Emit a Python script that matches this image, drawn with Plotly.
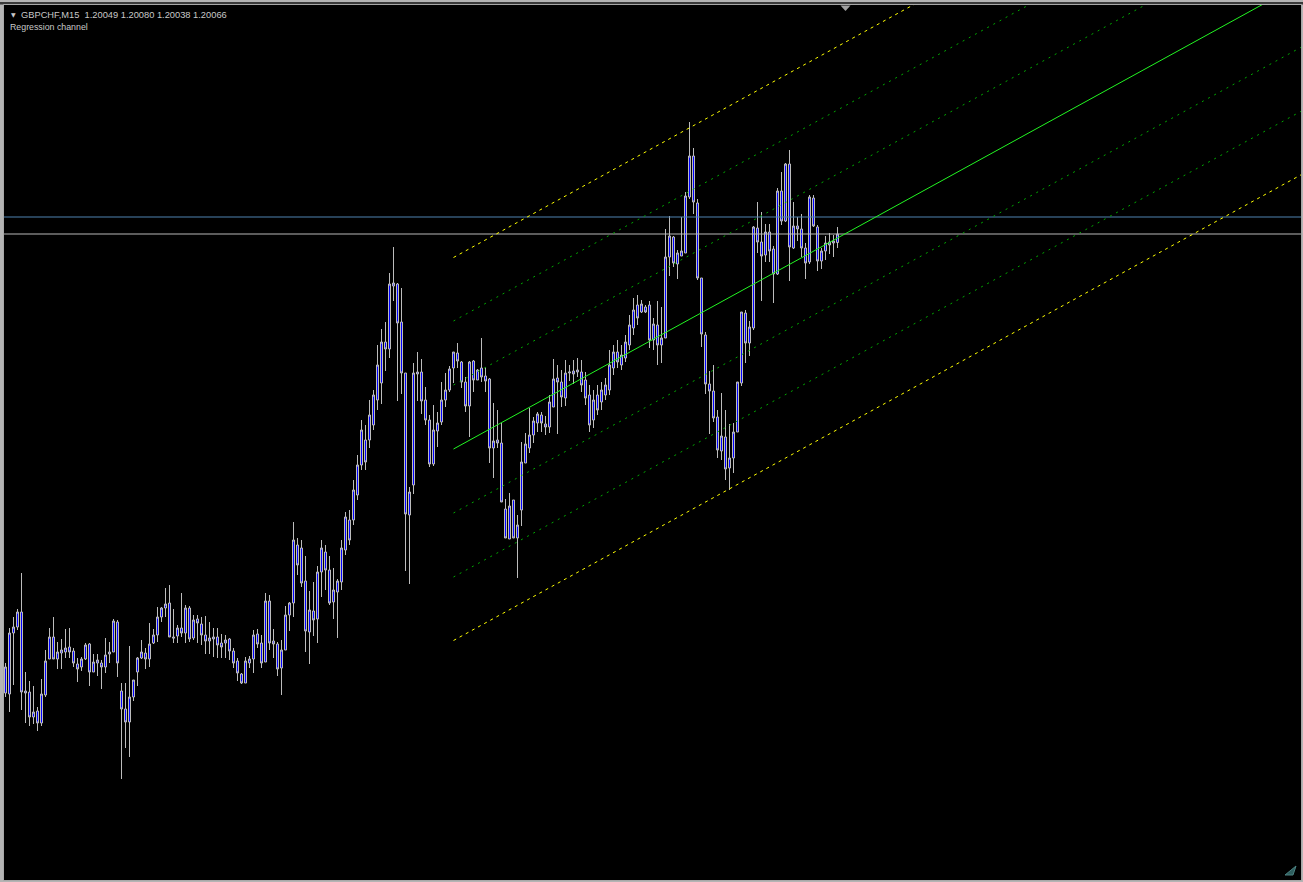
import plotly.graph_objects as go

# ---------------- data (GBPCHF M15) ----------------
symbol_label = "GBPCHF,M15"
header_ohlc = ["1.20049", "1.20080", "1.20038", "1.20066"]
indicator_label = "Regression channel"

opens = [
    1.19148, 1.19146, 1.19268, 1.19280, 1.19310, 1.19152, 1.19150, 1.19100, 1.19112, 1.19088,
    1.19144, 1.19216, 1.19260, 1.19216, 1.19228, 1.19230, 1.19240, 1.19232, 1.19206, 1.19200,
    1.19216, 1.19246, 1.19190, 1.19208, 1.19208, 1.19200, 1.19226, 1.19230, 1.19290, 1.19152,
    1.19116, 1.19090, 1.19140, 1.19190, 1.19218, 1.19228, 1.19216, 1.19248, 1.19264, 1.19300,
    1.19318, 1.19328, 1.19260, 1.19262, 1.19278, 1.19268, 1.19318, 1.19258, 1.19296, 1.19286,
    1.19264, 1.19252, 1.19256, 1.19260, 1.19248, 1.19248, 1.19256, 1.19232, 1.19212, 1.19186,
    1.19168, 1.19208, 1.19216, 1.19266, 1.19248, 1.19210, 1.19332, 1.19252, 1.19246, 1.19198,
    1.19234, 1.19304, 1.19328, 1.19444, 1.19438, 1.19372, 1.19270, 1.19312, 1.19296, 1.19390,
    1.19430, 1.19394, 1.19330, 1.19350, 1.19370, 1.19434, 1.19494, 1.19494, 1.19544, 1.19604,
    1.19654, 1.19654, 1.19684, 1.19734, 1.19768, 1.19850, 1.19836, 1.19962, 1.19966, 1.19890,
    1.19788, 1.19504, 1.19564, 1.19786, 1.19790, 1.19734, 1.19694, 1.19606, 1.19672, 1.19690,
    1.19734, 1.19754, 1.19798, 1.19828, 1.19810, 1.19770, 1.19722, 1.19812, 1.19774, 1.19798,
    1.19782, 1.19776, 1.19638, 1.19654, 1.19648, 1.19516, 1.19456, 1.19534, 1.19458, 1.19514,
    1.19608, 1.19638, 1.19664, 1.19688, 1.19704, 1.19686, 1.19680, 1.19720, 1.19778, 1.19770,
    1.19738, 1.19788, 1.19792, 1.19790, 1.19790, 1.19774, 1.19744, 1.19694, 1.19744, 1.19730,
    1.19744, 1.19754, 1.19798, 1.19830, 1.19804, 1.19818, 1.19844, 1.19878, 1.19924, 1.19910,
    1.19920, 1.19924, 1.19854, 1.19884, 1.19844, 1.19858, 1.20020, 1.20060, 1.20006, 1.20022,
    1.20028, 1.20140, 1.20222, 1.20128, 1.19978, 1.19864, 1.19766, 1.19752, 1.19700, 1.19632,
    1.19660, 1.19598, 1.19618, 1.19670, 1.19768, 1.19908, 1.19848, 1.19878, 1.20078, 1.20050,
    1.20024, 1.20070, 1.20036, 1.19986, 1.20152, 1.20092, 1.20206, 1.20038, 1.20082, 1.20076,
    1.20038, 1.20010, 1.20138, 1.20080, 1.20012, 1.20032, 1.20050, 1.20048, 1.20049,
]

highs = [
    1.19208, 1.19278, 1.19300, 1.19316, 1.19388, 1.19190, 1.19172, 1.19162, 1.19120, 1.19176,
    1.19234, 1.19278, 1.19300, 1.19250, 1.19256, 1.19276, 1.19278, 1.19238, 1.19218, 1.19220,
    1.19248, 1.19248, 1.19226, 1.19226, 1.19214, 1.19258, 1.19250, 1.19296, 1.19294, 1.19168,
    1.19168, 1.19242, 1.19174, 1.19220, 1.19254, 1.19238, 1.19288, 1.19276, 1.19320, 1.19320,
    1.19358, 1.19364, 1.19316, 1.19284, 1.19348, 1.19324, 1.19322, 1.19304, 1.19304, 1.19300,
    1.19302, 1.19290, 1.19278, 1.19278, 1.19266, 1.19264, 1.19258, 1.19238, 1.19218, 1.19188,
    1.19220, 1.19222, 1.19274, 1.19276, 1.19264, 1.19348, 1.19344, 1.19276, 1.19250, 1.19254,
    1.19322, 1.19330, 1.19490, 1.19458, 1.19454, 1.19422, 1.19352, 1.19370, 1.19402, 1.19454,
    1.19444, 1.19422, 1.19398, 1.19376, 1.19454, 1.19510, 1.19514, 1.19574, 1.19624, 1.19694,
    1.19684, 1.19734, 1.19754, 1.19844, 1.19876, 1.19890, 1.19988, 1.20040, 1.19968, 1.19958,
    1.19788, 1.19560, 1.19808, 1.19830, 1.19816, 1.19760, 1.19704, 1.19724, 1.19710, 1.19770,
    1.19788, 1.19802, 1.19830, 1.19848, 1.19812, 1.19780, 1.19812, 1.19814, 1.19796, 1.19858,
    1.19800, 1.19778, 1.19728, 1.19714, 1.19688, 1.19536, 1.19548, 1.19534, 1.19504, 1.19650,
    1.19668, 1.19718, 1.19700, 1.19710, 1.19710, 1.19702, 1.19744, 1.19816, 1.19804, 1.19794,
    1.19814, 1.19804, 1.19814, 1.19818, 1.19814, 1.19790, 1.19764, 1.19754, 1.19764, 1.19770,
    1.19778, 1.19834, 1.19844, 1.19854, 1.19844, 1.19864, 1.19904, 1.19938, 1.19944, 1.19934,
    1.19924, 1.19932, 1.19898, 1.19932, 1.19920, 1.20076, 1.20102, 1.20062, 1.20034, 1.20100,
    1.20150, 1.20290, 1.20238, 1.20136, 1.19978, 1.19870, 1.19792, 1.19804, 1.19714, 1.19748,
    1.19714, 1.19686, 1.19688, 1.19770, 1.19910, 1.19914, 1.19892, 1.20082, 1.20130, 1.20110,
    1.20086, 1.20086, 1.20042, 1.20158, 1.20190, 1.20208, 1.20234, 1.20130, 1.20100, 1.20106,
    1.20048, 1.20144, 1.20144, 1.20084, 1.20038, 1.20062, 1.20068, 1.20064, 1.20080,
]

lows = [
    1.19140, 1.19110, 1.19164, 1.19274, 1.19114, 1.19088, 1.19082, 1.19086, 1.19072, 1.19082,
    1.19140, 1.19216, 1.19216, 1.19196, 1.19196, 1.19218, 1.19218, 1.19200, 1.19170, 1.19192,
    1.19214, 1.19162, 1.19190, 1.19182, 1.19156, 1.19188, 1.19208, 1.19230, 1.19180, 1.18976,
    1.19038, 1.19020, 1.19132, 1.19162, 1.19216, 1.19196, 1.19200, 1.19246, 1.19250, 1.19290,
    1.19300, 1.19260, 1.19248, 1.19248, 1.19260, 1.19248, 1.19250, 1.19254, 1.19248, 1.19244,
    1.19226, 1.19226, 1.19220, 1.19218, 1.19218, 1.19218, 1.19214, 1.19198, 1.19172, 1.19166,
    1.19168, 1.19198, 1.19188, 1.19238, 1.19198, 1.19210, 1.19234, 1.19218, 1.19182, 1.19144,
    1.19234, 1.19272, 1.19300, 1.19384, 1.19360, 1.19230, 1.19206, 1.19262, 1.19248, 1.19340,
    1.19354, 1.19324, 1.19296, 1.19258, 1.19354, 1.19424, 1.19444, 1.19484, 1.19534, 1.19594,
    1.19594, 1.19638, 1.19674, 1.19714, 1.19726, 1.19792, 1.19818, 1.19932, 1.19732, 1.19746,
    1.19392, 1.19366, 1.19546, 1.19732, 1.19706, 1.19684, 1.19600, 1.19602, 1.19640, 1.19684,
    1.19720, 1.19750, 1.19768, 1.19798, 1.19758, 1.19710, 1.19660, 1.19750, 1.19774, 1.19770,
    1.19750, 1.19608, 1.19578, 1.19638, 1.19530, 1.19458, 1.19456, 1.19458, 1.19378, 1.19482,
    1.19608, 1.19628, 1.19648, 1.19670, 1.19670, 1.19664, 1.19668, 1.19720, 1.19666, 1.19720,
    1.19722, 1.19772, 1.19766, 1.19780, 1.19750, 1.19724, 1.19670, 1.19678, 1.19704, 1.19714,
    1.19734, 1.19744, 1.19784, 1.19798, 1.19794, 1.19810, 1.19834, 1.19864, 1.19884, 1.19908,
    1.19908, 1.19838, 1.19834, 1.19804, 1.19808, 1.19858, 1.19982, 1.20000, 1.19976, 1.20022,
    1.20028, 1.20136, 1.20106, 1.19974, 1.19840, 1.19746, 1.19666, 1.19690, 1.19618, 1.19614,
    1.19574, 1.19554, 1.19588, 1.19670, 1.19762, 1.19808, 1.19822, 1.19874, 1.20028, 1.19932,
    1.20010, 1.20010, 1.19928, 1.19984, 1.20084, 1.20090, 1.19972, 1.20036, 1.20052, 1.20020,
    1.19976, 1.20006, 1.20080, 1.19992, 1.19996, 1.20014, 1.20026, 1.20020, 1.20038,
]

closes = [
    1.19200, 1.19268, 1.19280, 1.19310, 1.19150, 1.19148, 1.19100, 1.19110, 1.19088, 1.19146,
    1.19212, 1.19260, 1.19216, 1.19230, 1.19234, 1.19238, 1.19230, 1.19208, 1.19196, 1.19216,
    1.19244, 1.19190, 1.19210, 1.19214, 1.19200, 1.19224, 1.19230, 1.19292, 1.19208, 1.19116,
    1.19090, 1.19140, 1.19174, 1.19218, 1.19230, 1.19216, 1.19246, 1.19264, 1.19300, 1.19318,
    1.19326, 1.19260, 1.19258, 1.19278, 1.19268, 1.19318, 1.19256, 1.19294, 1.19288, 1.19264,
    1.19252, 1.19258, 1.19260, 1.19244, 1.19240, 1.19254, 1.19232, 1.19208, 1.19188, 1.19168,
    1.19212, 1.19216, 1.19264, 1.19246, 1.19208, 1.19332, 1.19248, 1.19246, 1.19196, 1.19234,
    1.19304, 1.19328, 1.19454, 1.19404, 1.19368, 1.19272, 1.19314, 1.19294, 1.19390, 1.19438,
    1.19394, 1.19328, 1.19354, 1.19372, 1.19438, 1.19500, 1.19454, 1.19554, 1.19604, 1.19674,
    1.19610, 1.19704, 1.19744, 1.19804, 1.19850, 1.19836, 1.19966, 1.19968, 1.19888, 1.19788,
    1.19506, 1.19550, 1.19788, 1.19790, 1.19732, 1.19694, 1.19606, 1.19674, 1.19688, 1.19734,
    1.19754, 1.19796, 1.19830, 1.19812, 1.19770, 1.19722, 1.19810, 1.19774, 1.19794, 1.19780,
    1.19772, 1.19638, 1.19652, 1.19648, 1.19530, 1.19458, 1.19522, 1.19458, 1.19484, 1.19610,
    1.19646, 1.19664, 1.19692, 1.19706, 1.19688, 1.19680, 1.19730, 1.19776, 1.19770, 1.19740,
    1.19788, 1.19790, 1.19786, 1.19794, 1.19764, 1.19738, 1.19684, 1.19734, 1.19714, 1.19754,
    1.19764, 1.19804, 1.19830, 1.19810, 1.19824, 1.19850, 1.19884, 1.19914, 1.19898, 1.19926,
    1.19910, 1.19854, 1.19886, 1.19844, 1.19858, 1.20020, 1.20062, 1.20008, 1.20028, 1.20032,
    1.20142, 1.20222, 1.20130, 1.19978, 1.19866, 1.19766, 1.19752, 1.19698, 1.19634, 1.19662,
    1.19596, 1.19618, 1.19670, 1.19770, 1.19910, 1.19848, 1.19880, 1.20080, 1.20050, 1.20022,
    1.20070, 1.20032, 1.19986, 1.20152, 1.20092, 1.20206, 1.20040, 1.20082, 1.20076, 1.20038,
    1.20008, 1.20140, 1.20082, 1.20012, 1.20032, 1.20048, 1.20044, 1.20052, 1.20066,
]

bid_price = 1.20066
ask_price = 1.20100

# regression channel (anchored bars, prices at anchors, deviations)
channel_start_bar = 112
channel_end_bar = 208
channel_start_price = 1.19636
channel_end_price = 1.20058
channel_ray_to_bar = 340
channel_bands = [  # (offset, colour, dash)
    (0.00383, "#ffff00", "3px,4px"),
    (0.00256, "#00a800", "2px,5px"),
    (0.00128, "#00a800", "2px,5px"),
    (-0.00128, "#00a800", "2px,5px"),
    (-0.00256, "#00a800", "2px,5px"),
    (-0.00383, "#ffff00", "3px,4px"),
]

# visible window
x_view = [-0.375, 323.875]
y_view = [1.18774, 1.20524]

# ---------------- figure ----------------
W, H = 1303, 882
ML, MR, MT, MB = 4, 2, 5, 2
PW, PH = W - ML - MR, H - MT - MB

def px_x(px):
    return (px - ML) / PW

def px_y(py):
    return (H - MB - py) / PH

bars = list(range(len(closes)))

fig = go.Figure()

# bid / ask lines
fig.add_trace(go.Scatter(x=[x_view[0] - 5, x_view[1] + 5], y=[ask_price, ask_price],
                         mode="lines", line=dict(color="#4f82b0", width=1), hoverinfo="skip"))
fig.add_trace(go.Scatter(x=[x_view[0] - 5, x_view[1] + 5], y=[bid_price, bid_price],
                         mode="lines", line=dict(color="#b8b8b8", width=1), hoverinfo="skip"))

candle_style = dict(line=dict(color="#bcbcbc", width=1), fillcolor="#0000ff")
fig.add_trace(go.Candlestick(
    x=bars, open=opens, high=highs, low=lows, close=closes,
    increasing=candle_style, decreasing=candle_style,
    whiskerwidth=0, hoverinfo="skip",
))

slope = (channel_end_price - channel_start_price) / (channel_end_bar - channel_start_bar)
ray_end_price = channel_start_price + slope * (channel_ray_to_bar - channel_start_bar)
ray_x = [channel_start_bar, channel_ray_to_bar]

for off, col, dash in channel_bands:
    fig.add_trace(go.Scatter(x=ray_x, y=[channel_start_price + off, ray_end_price + off],
                             mode="lines", line=dict(color=col, width=1, dash=dash),
                             hoverinfo="skip"))
fig.add_trace(go.Scatter(x=ray_x, y=[channel_start_price, ray_end_price],
                         mode="lines", line=dict(color="#22f522", width=1),
                         hoverinfo="skip"))

header_font = dict(family="Liberation Sans, Arial, sans-serif", size=9.3, color="#c8c8c8")
label_font = dict(family="Liberation Sans, Arial, sans-serif", size=8.8, color="#c8c8c8")
annotations = [
    dict(text="▼", x=px_x(9), y=px_y(14.5), xanchor="left", yanchor="middle",
         font=dict(family="DejaVu Sans", size=6, color="#c8c8c8")),
    dict(text=symbol_label + "  " + " ".join(header_ohlc), x=px_x(19), y=px_y(14.5),
         xanchor="left", yanchor="middle", font=header_font),
    dict(text=indicator_label, x=px_x(8), y=px_y(27.5),
         xanchor="left", yanchor="middle", font=label_font),
]
for a in annotations:
    a.update(xref="paper", yref="paper", showarrow=False)

shapes = [
    # window chrome: dark band under the top strip
    dict(type="rect", xref="paper", yref="paper", x0=px_x(0), x1=px_x(W), y0=px_y(2), y1=px_y(4.5),
         fillcolor="#3a3a3a", line=dict(width=0), layer="below"),
    # chart frame
    dict(type="rect", xref="paper", yref="paper", x0=px_x(3.5), x1=px_x(1301.5),
         y0=px_y(880.5), y1=px_y(4.5), line=dict(color="#a8a8a8", width=1), layer="above"),
    # chart shift marker
    dict(type="path", xref="paper", yref="paper",
         path="M {a},{b} L {c},{b} L {d},{e} Z".format(a=px_x(840.5), b=px_y(5.5), c=px_x(850.5),
                                                     d=px_x(845.5), e=px_y(11)),
         fillcolor="#a0a0a0", line=dict(width=0), layer="above"),
    # small status icon bottom right
    dict(type="path", xref="paper", yref="paper",
         path="M {a},{b} L {c},{d} L {e},{f} Z".format(a=px_x(1285), b=px_y(875), c=px_x(1296), d=px_y(866),
                                                     e=px_x(1293), f=px_y(875)),
         fillcolor="#2f5f5f", line=dict(color="#4a8080", width=1), layer="above"),
]

fig.update_layout(
    width=W, height=H,
    margin=dict(l=ML, r=MR, t=MT, b=MB, pad=0),
    paper_bgcolor="#b4b4b4",
    plot_bgcolor="#000000",
    showlegend=False,
    hovermode=False,
    boxgap=0.5, boxgroupgap=0,
    annotations=annotations,
    shapes=shapes,
    xaxis=dict(range=x_view, visible=False, showgrid=False, zeroline=False,
               rangeslider=dict(visible=False), fixedrange=True),
    yaxis=dict(range=y_view, visible=False, showgrid=False, zeroline=False, fixedrange=True),
)

fig.write_html("out.html", config={"displayModeBar": False},
               post_script="document.body.style.margin='0';document.body.style.overflow='hidden';")
